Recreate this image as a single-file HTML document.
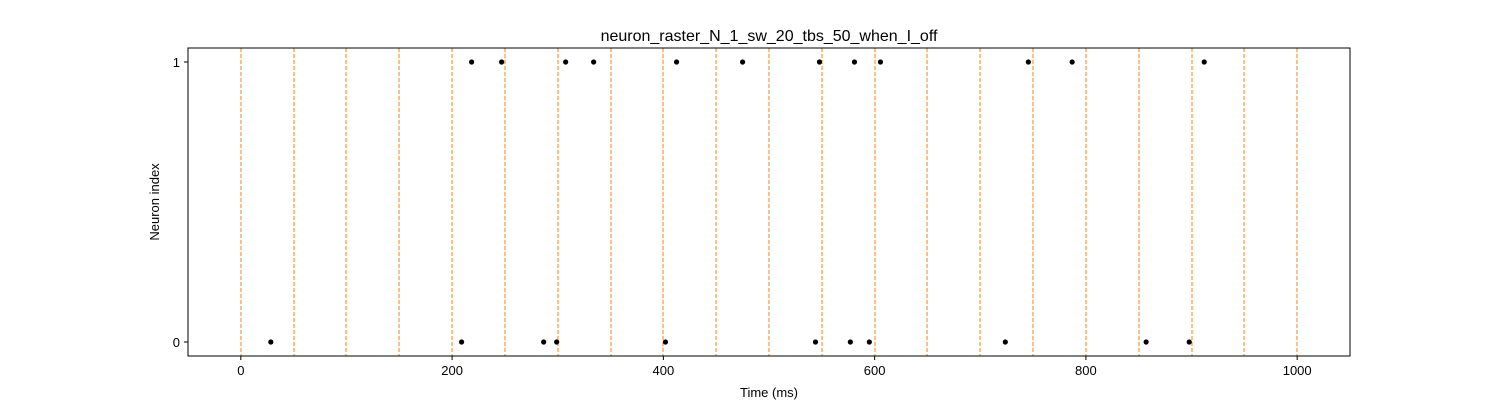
<!DOCTYPE html>
<html><head><meta charset="utf-8"><style>
html,body{margin:0;padding:0;background:#fff;}
svg{display:block;font-family:"Liberation Sans","DejaVu Sans",sans-serif;}
</style></head><body>
<svg id="chart" width="1500" height="400">
<text x="769" y="41" text-anchor="middle" font-size="16">neuron_raster_N_1_sw_20_tbs_50_when_I_off</text>
<g id="plot"></g>
<rect x="188" y="48" width="1162" height="308" fill="none" stroke="#000" stroke-width="1"/>
<text x="769" y="397" text-anchor="middle" font-size="13">Time (ms)</text>
<text transform="translate(159,202) rotate(-90)" text-anchor="middle" font-size="13">Neuron index</text>
</svg>
<script>
const xTicks=[0,200,400,600,800,1000];
const yTicks=[0,1];
const binEdges=[0,50,100,150,200,250,300,350,400,450,500,550,600,650,700,750,800,850,900,950,1000];
const spikes1=[218.5,246.9,307.5,334,412.5,475,547.8,580.9,605.5,745.5,787,912];
const spikes0=[28.4,209,286.7,299,402,544,577,595,723.7,857,897.8];
const L=188,R=1350,T=48,B=356,xmin=-50,xmax=1050,ymin=-0.05,ymax=1.05;
const sx=v=>L+(v-xmin)/(xmax-xmin)*(R-L);
const sy=v=>B-(v-ymin)/(ymax-ymin)*(B-T);
const NS="http://www.w3.org/2000/svg";
const g=document.getElementById('plot');
function mk(t,a){const e=document.createElementNS(NS,t);for(const k in a)e.setAttribute(k,a[k]);g.appendChild(e);return e;}
binEdges.forEach(v=>{const x=Math.round(sx(v));const e=mk('line',{x1:x,x2:x,y1:T,y2:B,stroke:'#ff7f0e','stroke-width':1.3,'stroke-dasharray':'4,2','shape-rendering':'crispEdges'});

});
[[spikes0,0],[spikes1,1]].forEach(([arr,n])=>arr.forEach(t=>{const e=mk('circle',{cx:sx(t),cy:sy(n),r:2.6,fill:'#000'});

}));
xTicks.forEach(v=>{const x=sx(v);const l=mk('line',{x1:x,x2:x,y1:B,y2:B+4,stroke:'#000'});


const t=mk('text',{x:x,y:B+19,'text-anchor':'middle','font-size':13});t.textContent=v;

});
yTicks.forEach(v=>{const y=sy(v);const l=mk('line',{x1:L-4,x2:L,y1:y,y2:y,stroke:'#000'});


const t=mk('text',{x:L-8,y:y+5,'text-anchor':'end','font-size':13});t.textContent=v;

});
</script>
</body></html>
